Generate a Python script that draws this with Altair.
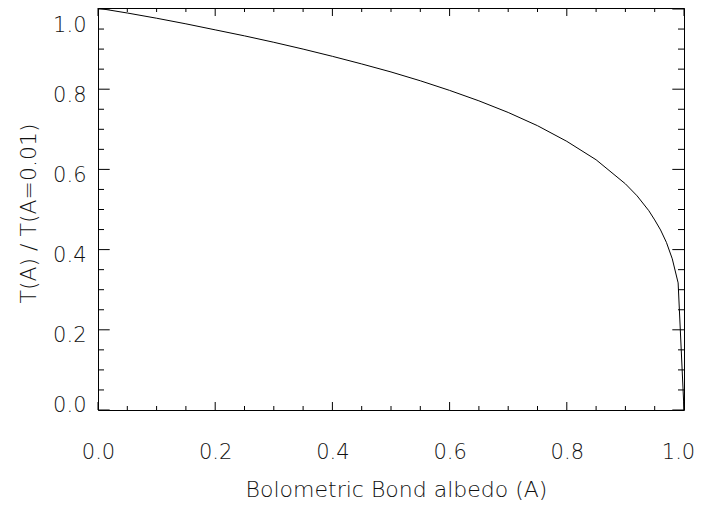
import altair as alt
import pandas as pd

# Curve
albedo = [0.00, 0.05, 0.10, 0.15, 0.20, 0.25, 0.30, 0.35, 0.40, 0.45, 0.50,
          0.55, 0.60, 0.65, 0.70, 0.75, 0.80, 0.85, 0.90, 0.92, 0.94, 0.95,
          0.96, 0.97, 0.98, 0.99, 1.00]
ratio = [1.002, 0.990, 0.977, 0.963, 0.948, 0.933, 0.917, 0.900, 0.882, 0.863, 0.843,
         0.821, 0.797, 0.771, 0.742, 0.709, 0.670, 0.624, 0.564, 0.534, 0.497, 0.474,
         0.449, 0.418, 0.377, 0.317, 0.000]

x_major = [0.0, 0.2, 0.4, 0.6, 0.8, 1.0]
x_minor = [0.05, 0.10, 0.15, 0.25, 0.30, 0.35, 0.45, 0.50, 0.55, 0.65, 0.70, 0.75, 0.85, 0.90, 0.95]
y_major = [0.0, 0.2, 0.4, 0.6, 0.8, 1.0]
y_minor = [0.05, 0.10, 0.15, 0.25, 0.30, 0.35, 0.45, 0.50, 0.55, 0.65, 0.70, 0.75, 0.85, 0.90, 0.95]

W, H = 586, 402
FONT = "DejaVu Sans"
TXT = "#111"

curve = pd.DataFrame({"A": albedo, "T": ratio})
xmaj = pd.DataFrame({"v": x_major})
xmin = pd.DataFrame({"v": x_minor})
ymaj = pd.DataFrame({"v": y_major})
ymin = pd.DataFrame({"v": y_minor})

xscale = alt.Scale(domain=[0, 1], nice=False, zero=False)
yscale = alt.Scale(domain=[0, 1.0025], nice=False, zero=False)

y_label_offset = {
    "condition": [
        {"test": "datum.value >= 0.99", "value": 16},
        {"test": "datum.value <= 0.01", "value": -5},
    ],
    "value": 6,
}
x_label_offset = {
    "condition": [{"test": "datum.value >= 0.99", "value": -6}],
    "value": 0,
}

line = alt.Chart(curve).mark_line(color="black", strokeWidth=1).encode(
    x=alt.X("A:Q", scale=xscale,
            axis=alt.Axis(values=x_major, format=".1f", title="Bolometric Bond albedo (A)",
                          ticks=False, tickSize=0, domain=False, grid=False,
                          labelFlush=False, labelOffset=x_label_offset,
                          labelPadding=31, labelFontSize=21, labelFont=FONT,
                          labelFontWeight=200, labelColor=TXT,
                          titleFont=FONT, titleFontSize=22,
                          titleFontWeight=200, titleColor=TXT,
                          titleX=298, titleY=86, titleBaseline="alphabetic",
                          titleAnchor="start", titleAlign="center")),
    y=alt.Y("T:Q", scale=yscale,
            axis=alt.Axis(values=y_major, format=".1f", title="T(A) / T(A=0.01)",
                          ticks=False, tickSize=0, domain=False, grid=False,
                          labelFlush=False,
                          labelPadding=12, labelFontSize=21, labelFont=FONT,
                          labelFontWeight=200, labelColor=TXT,
                          labelOffset=y_label_offset,
                          titleFont=FONT, titleFontSize=22, titleFontWeight=200,
                          titleColor=TXT, titleX=-70, titleY=205,
                          titleBaseline="middle", titleAlign="center", titleAngle=-90)),
)

def vticks(df, y0, y1):
    return alt.Chart(df).mark_rule(color="black", strokeWidth=1).encode(
        x=alt.X("v:Q", scale=xscale, axis=None),
        y=alt.value(y0), y2=alt.value(y1))

def hticks(df, x0, x1):
    return alt.Chart(df).mark_rule(color="black", strokeWidth=1).encode(
        y=alt.Y("v:Q", scale=yscale, axis=None),
        x=alt.value(x0), x2=alt.value(x1))

ticks = [
    vticks(xmaj, H, H - 8), vticks(xmin, H, H - 4),
    vticks(xmaj, 0, 8), vticks(xmin, 0, 4),
    hticks(ymaj, 0, 11.7), hticks(ymin, 0, 6),
    hticks(ymaj, W, W - 11.7), hticks(ymin, W, W - 6),
]

chart = alt.layer(line, *ticks).resolve_axis(x="independent", y="independent").properties(
    width=W, height=H,
    autosize=alt.AutoSizeParams(type="none"),
    padding={"left": 90, "top": 0, "right": 10, "bottom": 90},
    background="white",
).configure_view(stroke="black", strokeWidth=1)

chart.save("out.html", embed_options={"renderer": "svg", "actions": False})
